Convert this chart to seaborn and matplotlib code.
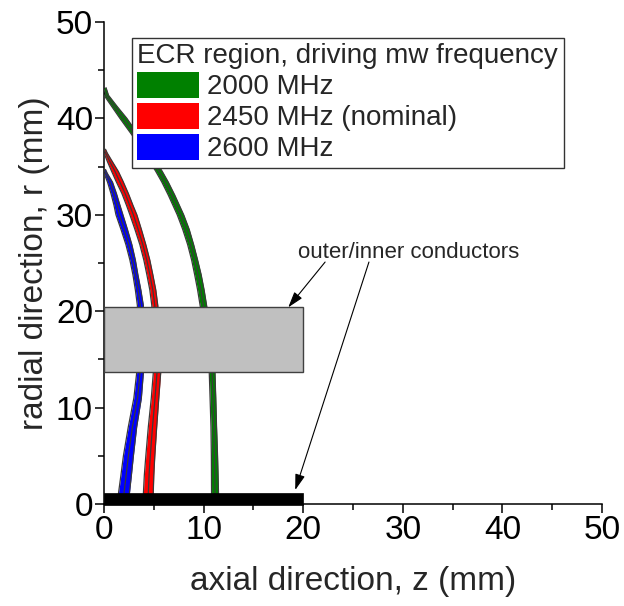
import matplotlib
matplotlib.use("Agg")
import matplotlib.pyplot as plt
from matplotlib.patches import Rectangle, Patch
import pandas as pd
import seaborn as sns

# ECR resonance bands: radial position r (mm) with inner/outer axial edges z (mm)
r_2000 = [43.2, 42.4, 41.2, 40.0, 38.0, 36.0, 34.5, 33.4, 32.05, 30.0, 28.5, 26.9,
          25.3, 23.8, 22.2, 20.6, 17.0, 13.6, 11.0, 8.0, 5.0, 1.0]
z_2000_lo = [-0.3, 0.0, 0.8, 1.6, 3.0, 4.3, 5.2, 5.8, 6.45, 7.35, 7.9, 8.4,
             8.8, 9.1, 9.4, 9.65, 10.2, 10.57, 10.65, 10.74, 10.78, 10.8]
z_2000_hi = [0.2, 0.45, 1.35, 2.3, 3.65, 4.95, 5.85, 6.45, 7.1, 8.0, 8.55, 9.0,
             9.4, 9.75, 10.05, 10.3, 10.8, 11.14, 11.22, 11.3, 11.4, 11.5]

r_2450 = [36.8, 36.4, 35.5, 34.5, 33.5, 32.2, 31.0, 30.0, 28.5, 26.9, 25.3, 23.8,
          22.2, 20.6, 17.0, 13.6, 11.0, 8.0, 5.0, 3.0, 1.0]
z_2450_lo = [-0.2, 0.0, 0.35, 0.77, 1.2, 1.8, 2.25, 2.6, 3.1, 3.6, 4.0, 4.3,
             4.6, 4.8, 4.95, 4.95, 4.75, 4.45, 4.2, 4.05, 3.95]
z_2450_hi = [0.15, 0.33, 0.85, 1.44, 1.9, 2.45, 2.9, 3.3, 3.75, 4.2, 4.6, 4.9,
             5.2, 5.4, 5.6, 5.69, 5.5, 5.29, 5.1, 5.0, 4.94]

r_2600 = [34.7, 34.3, 33.4, 32.2, 31.0, 30.0, 28.5, 26.9, 25.3, 23.8, 22.2, 20.6,
          17.0, 13.6, 11.0, 8.0, 5.0, 3.0, 1.0]
z_2600_lo = [-0.2, 0.0, 0.35, 0.7, 1.0, 1.2, 1.7, 2.2, 2.6, 2.9, 3.15, 3.35,
             3.45, 3.28, 3.0, 2.44, 1.95, 1.7, 1.44]
z_2600_hi = [0.15, 0.33, 0.85, 1.25, 1.6, 1.9, 2.35, 2.8, 3.15, 3.4, 3.7, 3.95,
             4.05, 3.95, 3.75, 3.28, 2.95, 2.75, 2.54]

labels = ["2000 MHz", "2450 MHz (nominal)", "2600 MHz"]
colors = ["#008000", "#ff0000", "#0000ff"]

legend_title = "ECR region, driving mw frequency"
ticks = [0, 10, 20, 30, 40, 50]
minor_ticks = [5, 15, 25, 35, 45]

# conductor geometry (mm)
outer_z = [0, 20]
outer_r = [13.7, 20.4]
inner_z = [0, 20]
inner_r = [-0.1, 1.15]

sns.set_theme(style="ticks")
plt.rcParams["font.family"] = ["Liberation Sans", "DejaVu Sans"]

fig = plt.figure(figsize=(6.24, 6.06), dpi=100)
ax = fig.add_axes([104 / 624, 1 - 504 / 606, 498 / 624, 482 / 606])

bands = [
    (r_2000, z_2000_lo, z_2000_hi),
    (r_2450, z_2450_lo, z_2450_hi),
    (r_2600, z_2600_lo, z_2600_hi),
]

edge = "#3a3a3a"
for (r, lo, hi), lab, col in zip(bands, labels, colors):
    ax.fill_betweenx(r, lo, hi, color=col, lw=0, zorder=2)
    mid = [(a + b) / 2 for a, b in zip(lo, hi)]
    df = pd.DataFrame({"r": r * 3,
                       "z": lo + hi + mid,
                       "edge": ["lo"] * len(r) + ["hi"] * len(r) + ["mid"] * len(r)})
    sns.lineplot(data=df, x="z", y="r", units="edge", estimator=None, sort=False,
                 color=edge, lw=0.9, ax=ax, zorder=3, legend=False)

# outer conductor (gray) and inner conductor (black)
ax.add_patch(Rectangle((outer_z[0], outer_r[0]), outer_z[1] - outer_z[0],
                       outer_r[1] - outer_r[0], facecolor="#c0c0c0",
                       edgecolor="#404040", lw=1.0, zorder=4))
ax.add_patch(Rectangle((inner_z[0], inner_r[0]), inner_z[1] - inner_z[0],
                       inner_r[1] - inner_r[0], facecolor="black",
                       edgecolor="black", lw=0.5, zorder=4, clip_on=False))

ax.text(30.6, 25.5, "outer/inner conductors", ha="center", va="baseline",
        fontsize=16, zorder=5)
arrow = dict(arrowstyle="-|>,head_length=0.8,head_width=0.25", color="black",
             lw=0.8, shrinkA=0, shrinkB=0)
ax.annotate("", xy=(18.5, 20.4), xytext=(22.2, 25.1), arrowprops=arrow, zorder=5)
ax.annotate("", xy=(19.2, 1.45), xytext=(26.6, 25.1), arrowprops=arrow, zorder=5)

ax.set_xlim(0, 50)
ax.set_ylim(0, 50)
ax.set_xticks(ticks)
ax.set_yticks(ticks)
ax.set_xticks(minor_ticks, minor=True)
ax.set_yticks(minor_ticks, minor=True)
ax.tick_params(which="major", direction="out", length=6.5, width=1.1,
               labelsize=24, pad=1.5, color="black", labelcolor="black")
ax.tick_params(which="minor", direction="out", length=4, width=1.1, color="black")
ax.set_xlabel("axial direction, z (mm)", fontsize=24, labelpad=14)
ax.set_ylabel("radial direction, r (mm)", fontsize=24, labelpad=4)
sns.despine(ax=ax)
for s in ("left", "bottom"):
    ax.spines[s].set_linewidth(1.1)
    ax.spines[s].set_color("black")

handles = [Patch(facecolor=c, edgecolor="none") for c in colors]
leg = ax.legend(handles, labels, title=legend_title, loc="upper left",
                bbox_to_anchor=(0.056, 0.967), borderaxespad=0, fontsize=20,
                title_fontsize=20, frameon=True, fancybox=False, framealpha=1,
                edgecolor="#333333", handlelength=2.2, handleheight=1.1,
                labelspacing=0.08, handletextpad=0.3, borderpad=0.2,
                alignment="left")
leg.get_frame().set_linewidth(1.0)
leg.set_zorder(6)

fig.savefig("out.png", dpi=100)
